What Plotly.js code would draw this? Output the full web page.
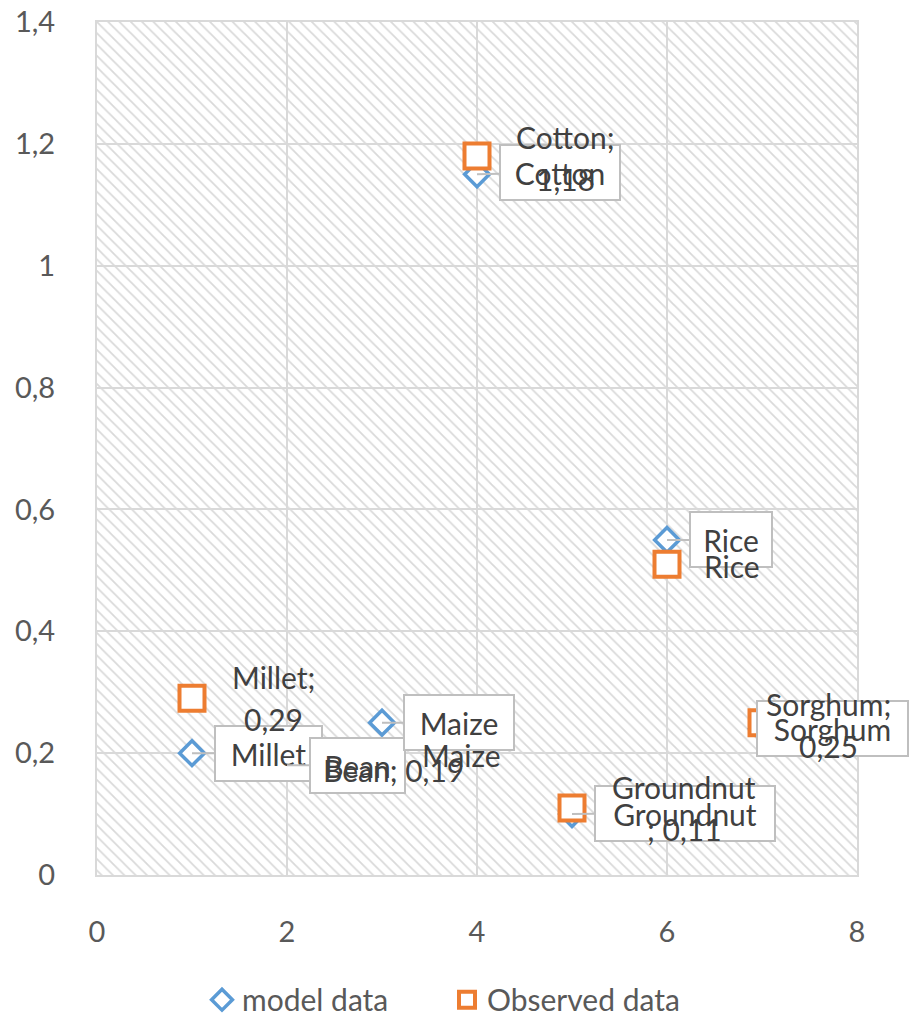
<!DOCTYPE html>
<html>
<head>
<meta charset="utf-8">
<script src="https://cdn.plot.ly/plotly-3.0.1.min.js"></script>
<style>html,body{margin:0;padding:0;background:#fff;}#chart{width:914px;height:1016px;}</style>
</head>
<body>
<div id="chart"></div>
<script>
// ---- data ----
const crops = ['Millet', 'Bean', 'Maize', 'Cotton', 'Groundnut', 'Rice', 'Sorghum'];
const cropIndex = [1, 2, 3, 4, 5, 6, 7];
const modelData = [0.20, 0.18, 0.25, 1.15, 0.10, 0.55, 0.24];
const observedData = [0.29, 0.19, 0.20, 1.18, 0.11, 0.51, 0.25];
const modelLabels = ['Millet', 'Bean', 'Maize', 'Cotton', 'Groundnut', 'Rice', 'Sorghum'];
const observedLabels = [
  ['Millet;', '0,29'],
  ['Bean; 0,19'],
  ['Maize'],
  ['Cotton;', '1,18'],
  ['Groundnut', '; 0,11'],
  ['Rice'],
  ['Sorghum;', '0,25']
];
const seriesNames = ['model data', 'Observed data'];
const xRange = [0, 8];
const yRange = [0, 1.4];

// ---- styles / label placement (pixels) ----
const FONT = 'Lato, "Open Sans", sans-serif';
const modelBox = [ // ax, ay, width
  [76, 0, 107], [70, 0, 95], [77, 0, 110], [83, -2, 120],
  [113, -1, 180], [64, 0, 82], [70, 0, 151]
];
const obsShift = [ // xshift, yshift
  [81, 0], [106, -11], [79, -2], [88, -2], [112, 0], [65, -2], [66, -2]
];
const LINE_GAP = 42;

const traces = [
  { // hatched plot background
    x: [xRange[0], xRange[1], xRange[1], xRange[0], xRange[0]],
    y: [yRange[0], yRange[0], yRange[1], yRange[1], yRange[0]],
    mode: 'none', fill: 'toself', fillcolor: 'rgba(0,0,0,0)',
    fillpattern: { shape: '\\', fgcolor: '#d9d9d9', bgcolor: 'rgba(0,0,0,0)', size: 8, solidity: 0.22 },
    showlegend: false, hoverinfo: 'skip'
  },
  {
    x: cropIndex, y: modelData, name: seriesNames[0], mode: 'markers', type: 'scatter',
    marker: { symbol: 'diamond', size: 19, color: 'white', line: { color: '#5B9BD5', width: 3.5 } },
    cliponaxis: false
  },
  {
    x: cropIndex, y: observedData, name: seriesNames[1], mode: 'markers', type: 'scatter',
    marker: { symbol: 'square', size: 25, color: 'white', line: { color: '#ED7D31', width: 4 } },
    cliponaxis: false
  }
];

const annotations = [];
crops.forEach((c, i) => {
  const b = modelBox[i];
  annotations.push({
    x: cropIndex[i], y: modelData[i], xref: 'x', yref: 'y',
    text: modelLabels[i], showarrow: true, ax: b[0], ay: b[1],
    arrowhead: 0, arrowwidth: 2, arrowcolor: i === 6 ? 'rgba(0,0,0,0)' : '#bfbfbf', standoff: 0,
    bgcolor: 'white', bordercolor: '#bfbfbf', borderwidth: 2, borderpad: 2,
    width: b[2] - 6, height: 49, align: 'center',
    font: { family: FONT, size: 30, color: '#404040' }
  });
});
crops.forEach((c, i) => {
  const lines = observedLabels[i];
  const n = lines.length;
  lines.forEach((t, k) => {
    annotations.push({
      x: cropIndex[i], y: observedData[i], xref: 'x', yref: 'y',
      text: t, showarrow: false, xanchor: 'center', yanchor: 'middle',
      xshift: obsShift[i][0], yshift: obsShift[i][1] + ((n - 1) / 2 - k) * LINE_GAP,
      font: { family: FONT, size: 30, color: '#404040' }
    });
  });
});

const axisCommon = {
  showgrid: true, gridcolor: '#d9d9d9', gridwidth: 2,
  zeroline: false, showline: true, linecolor: '#d9d9d9', linewidth: 2, mirror: true,
  ticks: '', tickfont: { family: FONT, size: 29, color: '#595959' }, fixedrange: true
};

const layout = {
  width: 914, height: 1016,
  margin: { l: 97, r: 57, t: 22, b: 141 },
  paper_bgcolor: 'white', plot_bgcolor: 'white',
  separators: ', ',
  xaxis: Object.assign({}, axisCommon, { range: xRange, dtick: 2, tick0: 0, ticklabelstandoff: 30, automargin: false }),
  yaxis: Object.assign({}, axisCommon, { range: yRange, dtick: 0.2, tick0: 0, ticklabelstandoff: 34, automargin: false }),
  showlegend: true,
  legend: {
    orientation: 'h', xref: 'container', yref: 'container',
    x: 0.221, xanchor: 'left', y: 0.016, yanchor: 'middle',
    entrywidth: 200, entrywidthmode: 'pixels',
    font: { family: FONT, size: 30, color: '#595959' }, itemsizing: 'trace'
  },
  annotations: annotations
};

Plotly.newPlot('chart', traces, layout, { displayModeBar: false, staticPlot: true });
</script>
</body>
</html>
